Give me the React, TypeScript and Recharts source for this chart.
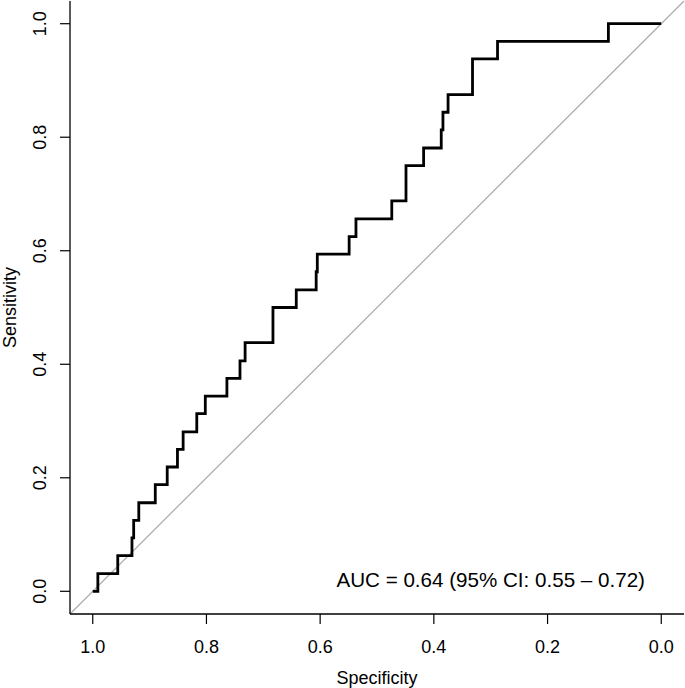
import { LineChart, Line, XAxis, YAxis, ReferenceLine, ReferenceDot } from "recharts";

// ROC curve corners (specificity, sensitivity), 32 positives -> steps of 1/32
const specificity = [
  1.0, 0.991, 0.991, 0.956, 0.956, 0.931, 0.931, 0.928, 0.928, 0.919, 0.919, 0.89, 0.89, 0.869, 0.869,
  0.851, 0.851, 0.841, 0.841, 0.817, 0.817, 0.802, 0.802, 0.764, 0.764, 0.741, 0.741, 0.732, 0.732,
  0.683, 0.683, 0.642, 0.642, 0.607, 0.607, 0.605, 0.605, 0.549, 0.549, 0.537, 0.537, 0.474, 0.474,
  0.449, 0.449, 0.418, 0.418, 0.387, 0.387, 0.384, 0.384, 0.375, 0.375, 0.332, 0.332, 0.288, 0.288,
  0.093, 0.093, 0.0,
];
const sensitivity = [
  0, 0, 0.031, 0.031, 0.063, 0.063, 0.094, 0.094, 0.125, 0.125, 0.156, 0.156, 0.188, 0.188, 0.219,
  0.219, 0.25, 0.25, 0.281, 0.281, 0.313, 0.313, 0.344, 0.344, 0.375, 0.375, 0.406, 0.406, 0.438,
  0.438, 0.5, 0.5, 0.531, 0.531, 0.563, 0.563, 0.594, 0.594, 0.625, 0.625, 0.656, 0.656, 0.688,
  0.688, 0.75, 0.75, 0.781, 0.781, 0.813, 0.813, 0.844, 0.844, 0.875, 0.875, 0.938, 0.938, 0.969,
  0.969, 1.0, 1.0,
];
const ticks = [0, 0.2, 0.4, 0.6, 0.8, 1.0];
const axisDomain = [-0.04, 1.04];
const aucText = "AUC = 0.64 (95% CI: 0.55 \u2013 0.72)";

const FONT = "'Liberation Sans', Arial, Helvetica, sans-serif";

const curve = specificity.map((s, i) => ({ spec: s, sens: sensitivity[i] }));

const XTick = ({ x, y, payload }: any) => (
  <text x={x} y={y + 27} textAnchor="middle" fontFamily={FONT} fontSize={18} fill="#000">
    {payload.value.toFixed(1)}
  </text>
);

const YTick = ({ x, y, payload }: any) => (
  <text
    x={x - 12}
    y={y}
    transform={`rotate(-90, ${x - 12}, ${y})`}
    textAnchor="middle"
    fontFamily={FONT}
    fontSize={18}
    fill="#000"
  >
    {payload.value.toFixed(1)}
  </text>
);

export default function App() {
  return (
    <div style={{ position: "absolute", left: 0, top: 0 }}>
      <LineChart
        width={685}
        height={688}
        data={curve}
        margin={{ top: 1, right: 1, bottom: 0, left: 0 }}
      >
        <XAxis
          dataKey="spec"
          type="number"
          reversed
          domain={axisDomain}
          ticks={ticks}
          allowDataOverflow
          height={74}
          tickSize={10}
          tickMargin={2}
          tick={<XTick />}
          axisLine={{ stroke: "#000", strokeWidth: 1.3 }}
          tickLine={{ stroke: "#000", strokeWidth: 1.2 }}
          label={{
            content: ({ viewBox }: any) => (
              <text
                x={viewBox.x + viewBox.width / 2}
                y={viewBox.y + 70}
                textAnchor="middle"
                fontFamily={FONT}
                fontSize={18}
                fill="#000"
              >
                Specificity
              </text>
            ),
          }}
        />
        <XAxis
          xAxisId="top"
          orientation="top"
          type="number"
          domain={axisDomain}
          height={0}
          tick={false}
          tickLine={false}
          axisLine={{ stroke: "#000", strokeWidth: 1.3 }}
        />
        <YAxis
          dataKey="sens"
          type="number"
          domain={axisDomain}
          ticks={ticks}
          allowDataOverflow
          width={70}
          tickSize={10}
          tickMargin={2}
          tick={<YTick />}
          axisLine={{ stroke: "#000", strokeWidth: 1.3 }}
          tickLine={{ stroke: "#000", strokeWidth: 1.2 }}
          label={{
            content: ({ viewBox }: any) => {
              const cx = viewBox.x + 16;
              const cy = viewBox.y + viewBox.height / 2;
              return (
                <text
                  x={cx}
                  y={cy}
                  transform={`rotate(-90, ${cx}, ${cy})`}
                  textAnchor="middle"
                  fontFamily={FONT}
                  fontSize={18}
                  fill="#000"
                >
                  Sensitivity
                </text>
              );
            },
          }}
        />
        <YAxis
          yAxisId="right"
          orientation="right"
          type="number"
          domain={axisDomain}
          width={0}
          tick={false}
          tickLine={false}
          axisLine={{ stroke: "#000", strokeWidth: 1.3 }}
        />
        <ReferenceLine
          segment={[
            { x: axisDomain[1], y: axisDomain[0] },
            { x: axisDomain[0], y: axisDomain[1] },
          ]}
          stroke="#aaaaaa"
          strokeWidth={1.2}
          ifOverflow="visible"
        />
        <Line
          dataKey="sens"
          type="linear"
          stroke="#000"
          strokeWidth={2.8}
          dot={false}
          activeDot={false}
          isAnimationActive={false}
        />
        <ReferenceDot
          x={0.3}
          y={0.02}
          r={0}
          stroke="none"
          fill="none"
          label={{
            content: ({ viewBox }: any) => (
              <text
                x={viewBox.x + viewBox.width / 2}
                y={viewBox.y + viewBox.height / 2 + 7}
                textAnchor="middle"
                fontFamily={FONT}
                fontSize={20.6}
                fill="#000"
              >
                {aucText}
              </text>
            ),
          }}
        />
      </LineChart>
    </div>
  );
}
